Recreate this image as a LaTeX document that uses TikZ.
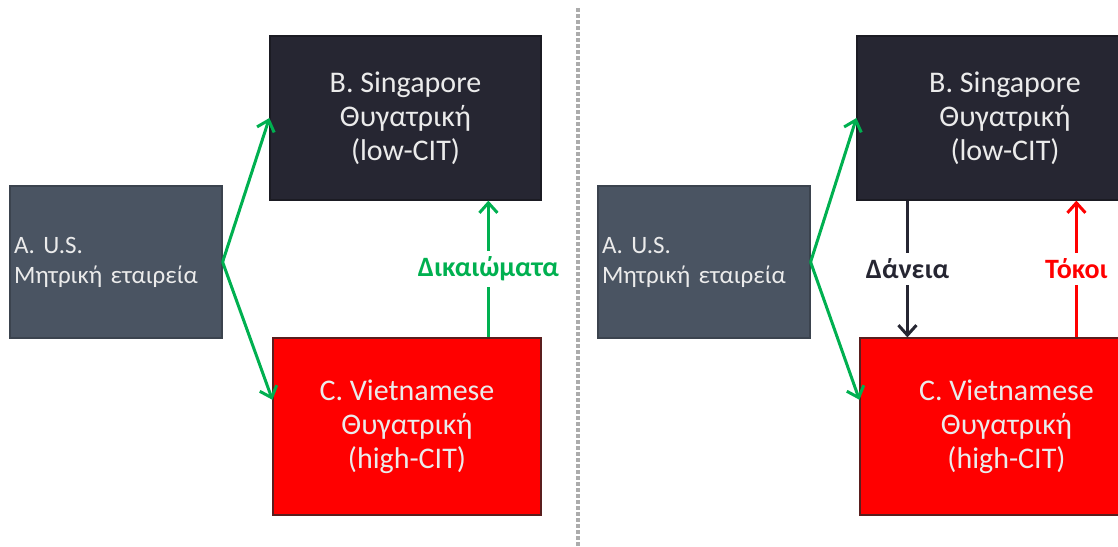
\documentclass[tikz,border=0pt]{standalone}
\usepackage{fontspec}
\setmainfont{Carlito}
\usetikzlibrary{arrows.meta,positioning,calc}
\definecolor{slate}{RGB}{74,84,98}
\definecolor{night}{RGB}{38,38,50}
\definecolor{leaf}{RGB}{0,176,80}
\definecolor{rust}{RGB}{90,30,30}

\begin{document}
\begin{tikzpicture}[x=0.5pt,y=-0.5pt,
  box/.style={draw, line width=0.6pt, text=white!92!black, minimum height=82pt, align=center, font=\fontsize{15}{17}\selectfont},
  parent/.style={box, fill=slate, draw=slate!80!black, minimum width=106pt, minimum height=76pt, text width=102pt, inner xsep=2pt, align=left, font=\fontsize{12.5}{15}\selectfont},
  low/.style={box, fill=night, draw=night!70!black},
  high/.style={box, fill=red, draw=rust, minimum height=88.5pt},
  own/.style={draw=leaf, line width=1.5pt, -{Straight Barb[length=5pt,width=9pt]}},
  flow/.style={line width=1.5pt, -{Straight Barb[length=5pt,width=9pt]}},
  tag/.style={fill=white, inner sep=3pt, font=\bfseries\fontsize{14}{16}\selectfont}]
\clip (0,0) rectangle (1118,546);
% left case: royalties
\node[parent] (a1) at (116,262) {A. U.S.\\ Μητρική εταιρεία};
\node[low, minimum width=135.5pt] (b1) at (405.5,118) {B. Singapore\\ Θυγατρική\\ (low-CIT)};
\node[high, minimum width=134pt] (c1) at (407,426.5) {C. Vietnamese\\ Θυγατρική\\ (high-CIT)};
\draw[own] (a1.east) -- (b1.west);
\draw[own] (a1.east) -- ($(c1.north west)!0.35!(c1.south west)$);
\coordinate (r1) at ($(c1.north west)+(216,0)$);
\draw[flow, draw=leaf] (r1) -- node[tag, text=leaf] {Δικαιώματα} (r1 |- b1.south);
% divider
\draw[gray!65, line width=1.6pt, dash pattern=on 2pt off 1pt] (578,8) -- (578,546);
% right case: loans and interest
\node[parent] (a2) at (704,262) {A. U.S.\\ Μητρική εταιρεία};
\node[low, minimum width=148pt] (b2) at (1005,118) {B. Singapore\\ Θυγατρική\\ (low-CIT)};
\node[high, minimum width=146.5pt] (c2) at (1006.5,426.5) {C. Vietnamese\\ Θυγατρική\\ (high-CIT)};
\draw[own] (a2.east) -- (b2.west);
\draw[own] (a2.east) -- ($(c2.north west)!0.35!(c2.south west)$);
\coordinate (d2) at ($(b2.south west)+(51,0)$);
\draw[flow, draw=night] (d2) -- node[tag, text=night] {Δάνεια} (d2 |- c2.north);
\coordinate (t2) at ($(c2.north west)+(217,0)$);
\draw[flow, draw=red] (t2) -- node[tag, text=red] {Τόκοι} (t2 |- b2.south);
\end{tikzpicture}
\end{document}
